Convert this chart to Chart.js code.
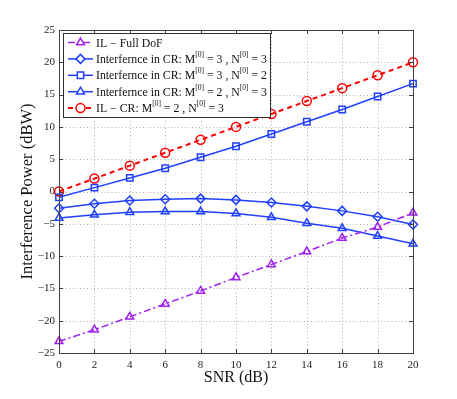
<!DOCTYPE html>
<html>
<head>
<meta charset="utf-8">
<script src="https://cdn.jsdelivr.net/npm/chart.js@4"></script>
<style>
  html, body { margin: 0; padding: 0; background: #fff; }
  #wrap { width: 457px; height: 399px; }
</style>
</head>
<body>
<div id="wrap"><canvas id="chart" width="457" height="399"></canvas></div>
<script>
// SNR values (dB)
const snr = [0, 2, 4, 6, 8, 10, 12, 14, 16, 18, 20];

// series values (dBW)
const ilFullDof = [-23.2, -21.4, -19.4, -17.4, -15.4, -13.3, -11.3, -9.3, -7.2, -5.5, -3.3];
const crM3N3 = [-2.6, -1.9, -1.4, -1.2, -1.1, -1.3, -1.7, -2.3, -3.0, -3.9, -5.1];
const crM3N2 = [-0.9, 0.6, 2.1, 3.6, 5.3, 7.0, 8.9, 10.8, 12.7, 14.7, 16.7];
const crM2N3 = [-4.1, -3.6, -3.2, -3.1, -3.1, -3.4, -4.0, -4.9, -5.7, -6.9, -8.1];
const ilCr = [0, 2, 4, 6, 8, 10, 12, 14, 16, 18, 20];

const xTicks = [0, 2, 4, 6, 8, 10, 12, 14, 16, 18, 20];
const yTicks = [-25, -20, -15, -10, -5, 0, 5, 10, 15, 20, 25];

const PURPLE = '#a020f0';
const BLUE = '#2040ff';
const RED = '#ff0000';
const SERIF = '"Liberation Serif", "DejaVu Serif", serif';

function pts(ys) {
    return snr.map((x, i) => ({ x: x, y: ys[i] }));
}

// legend entries: text parts, true marks superscript
const legendItems = [
    { color: PURPLE, dash: [7, 3, 2, 3], marker: 'triangle', parts: [['IL \u2212 Full DoF', false]] },
    { color: BLUE, dash: [], marker: 'rectRot', parts: [['Interfernce in CR: M', false], ['[0]', true], [' = 3 , N', false], ['[0]', true], [' = 3', false]] },
    { color: BLUE, dash: [], marker: 'rect', parts: [['Interfernce in CR: M', false], ['[0]', true], [' = 3 , N', false], ['[0]', true], [' = 2', false]] },
    { color: BLUE, dash: [], marker: 'triangle', parts: [['Interfernce in CR: M', false], ['[0]', true], [' = 2 , N', false], ['[0]', true], [' = 3', false]] },
    { color: RED, dash: [5, 4], marker: 'circle', parts: [['IL \u2212 CR: M', false], ['[0]', true], [' = 2 , N', false], ['[0]', true], [' = 3', false]] }
];

// dotted grid under the data
const gridPlugin = {
    id: 'dotgrid',
    beforeDatasetsDraw(chart) {
        const ctx = chart.ctx;
        const a = chart.chartArea;
        const xs = chart.scales.x, ys = chart.scales.y;
        ctx.save();
        ctx.strokeStyle = '#b0b0b0';
        ctx.lineWidth = 1;
        ctx.setLineDash([1, 2.5]);
        ctx.beginPath();
        xTicks.forEach(v => {
            const px = Math.round(xs.getPixelForValue(v)) + 0.5;
            ctx.moveTo(px, a.top); ctx.lineTo(px, a.bottom);
        });
        yTicks.forEach(v => {
            const py = Math.round(ys.getPixelForValue(v)) + 0.5;
            ctx.moveTo(a.left, py); ctx.lineTo(a.right, py);
        });
        ctx.stroke();
        ctx.restore();
    }
};

// frame, inward ticks and legend box
const framePlugin = {
    id: 'frame',
    afterDraw(chart) {
        const ctx = chart.ctx;
        const a = chart.chartArea;
        const xs = chart.scales.x, ys = chart.scales.y;
        ctx.save();
        ctx.strokeStyle = '#404040';
        ctx.lineWidth = 1;
        ctx.strokeRect(Math.round(a.left) + 0.5, Math.round(a.top) + 0.5, Math.round(a.right - a.left), Math.round(a.bottom - a.top));
        ctx.beginPath();
        xTicks.forEach(v => {
            const px = Math.round(xs.getPixelForValue(v)) + 0.5;
            ctx.moveTo(px, a.bottom); ctx.lineTo(px, a.bottom - 4);
            ctx.moveTo(px, a.top); ctx.lineTo(px, a.top + 4);
        });
        yTicks.forEach(v => {
            const py = Math.round(ys.getPixelForValue(v)) + 0.5;
            ctx.moveTo(a.left, py); ctx.lineTo(a.left + 4, py);
            ctx.moveTo(a.right, py); ctx.lineTo(a.right - 4, py);
        });
        ctx.stroke();

        // legend
        const bx = 63, by = 33, bw = 207, bh = 84;
        ctx.fillStyle = '#fff';
        ctx.fillRect(bx, by, bw, bh);
        ctx.strokeStyle = '#303030';
        ctx.strokeRect(bx + 0.5, by + 0.5, bw, bh);
        legendItems.forEach((it, i) => {
            const y = 42.5 + i * 16.4;
            ctx.strokeStyle = it.color;
            ctx.lineWidth = it.color === RED ? 2 : 1.5;
            ctx.setLineDash(it.dash);
            ctx.beginPath();
            ctx.moveTo(68, y); ctx.lineTo(93, y);
            ctx.stroke();
            ctx.setLineDash([]);
            ctx.fillStyle = '#fff';
            ctx.lineWidth = 1.5;
            Chart.helpers.drawPoint(ctx, { pointStyle: it.marker, radius: 4.5, borderWidth: 1.5 }, 80.5, y);
            let tx = 96;
            ctx.fillStyle = '#111';
            ctx.textBaseline = 'middle';
            it.parts.forEach(p => {
                ctx.font = (p[1] ? '7.5px ' : '11.8px ') + SERIF;
                const dy = p[1] ? -4 : 1;
                ctx.fillText(p[0], tx, y + dy);
                tx += ctx.measureText(p[0]).width;
            });
        });
        ctx.restore();
    }
};

function makeSet(label, ys, color, marker, dash, width) {
    return {
        label: label,
        data: pts(ys),
        borderColor: color,
        backgroundColor: 'rgba(0,0,0,0)',
        pointBorderColor: color,
        pointBackgroundColor: 'rgba(0,0,0,0)',
        pointStyle: marker,
        pointRadius: 4.5,
        pointBorderWidth: 1.5,
        borderWidth: width,
        borderDash: dash,
        tension: 0
    };
}

const minus = v => String(v).replace('-', '\u2212');

new Chart(document.getElementById('chart'), {
    type: 'line',
    data: {
        datasets: [
            makeSet('IL - Full DoF', ilFullDof, PURPLE, 'triangle', [7, 3, 2, 3], 1.5),
            makeSet('CR M3 N3', crM3N3, BLUE, 'rectRot', [], 1.5),
            makeSet('CR M3 N2', crM3N2, BLUE, 'rect', [], 1.5),
            makeSet('CR M2 N3', crM2N3, BLUE, 'triangle', [], 1.5),
            makeSet('IL - CR', ilCr, RED, 'circle', [5, 4], 2)
        ]
    },
    options: {
        responsive: false,
        animation: false,
        clip: false,
        layout: { padding: { left: 0, right: 44, top: 30, bottom: 0 } },
        plugins: { legend: { display: false }, tooltip: { enabled: false } },
        scales: {
            x: {
                type: 'linear', min: 0, max: 20,
                afterFit: s => { s.height = 46; },
                afterBuildTicks: s => { s.ticks = xTicks.map(v => ({ value: v })); },
                grid: { display: false, drawTicks: false },
                border: { display: false },
                ticks: { padding: 6, color: '#222', font: { family: SERIF, size: 11 }, maxRotation: 0 },
                title: { display: true, text: 'SNR (dB)', color: '#111', font: { family: SERIF, size: 16 }, padding: { top: 0, bottom: 12 } }
            },
            y: {
                type: 'linear', min: -25, max: 25,
                afterFit: s => { s.width = 59; },
                afterBuildTicks: s => { s.ticks = yTicks.map(v => ({ value: v })); },
                grid: { display: false, drawTicks: false },
                border: { display: false },
                ticks: { padding: 4, color: '#222', font: { family: SERIF, size: 11 }, callback: v => minus(v) },
                title: { display: true, text: 'Interference Power (dBW)', color: '#111', font: { family: SERIF, size: 16.5 }, padding: { top: 18, bottom: 0 } }
            }
        }
    },
    plugins: [gridPlugin, framePlugin]
});
</script>
</body>
</html>
